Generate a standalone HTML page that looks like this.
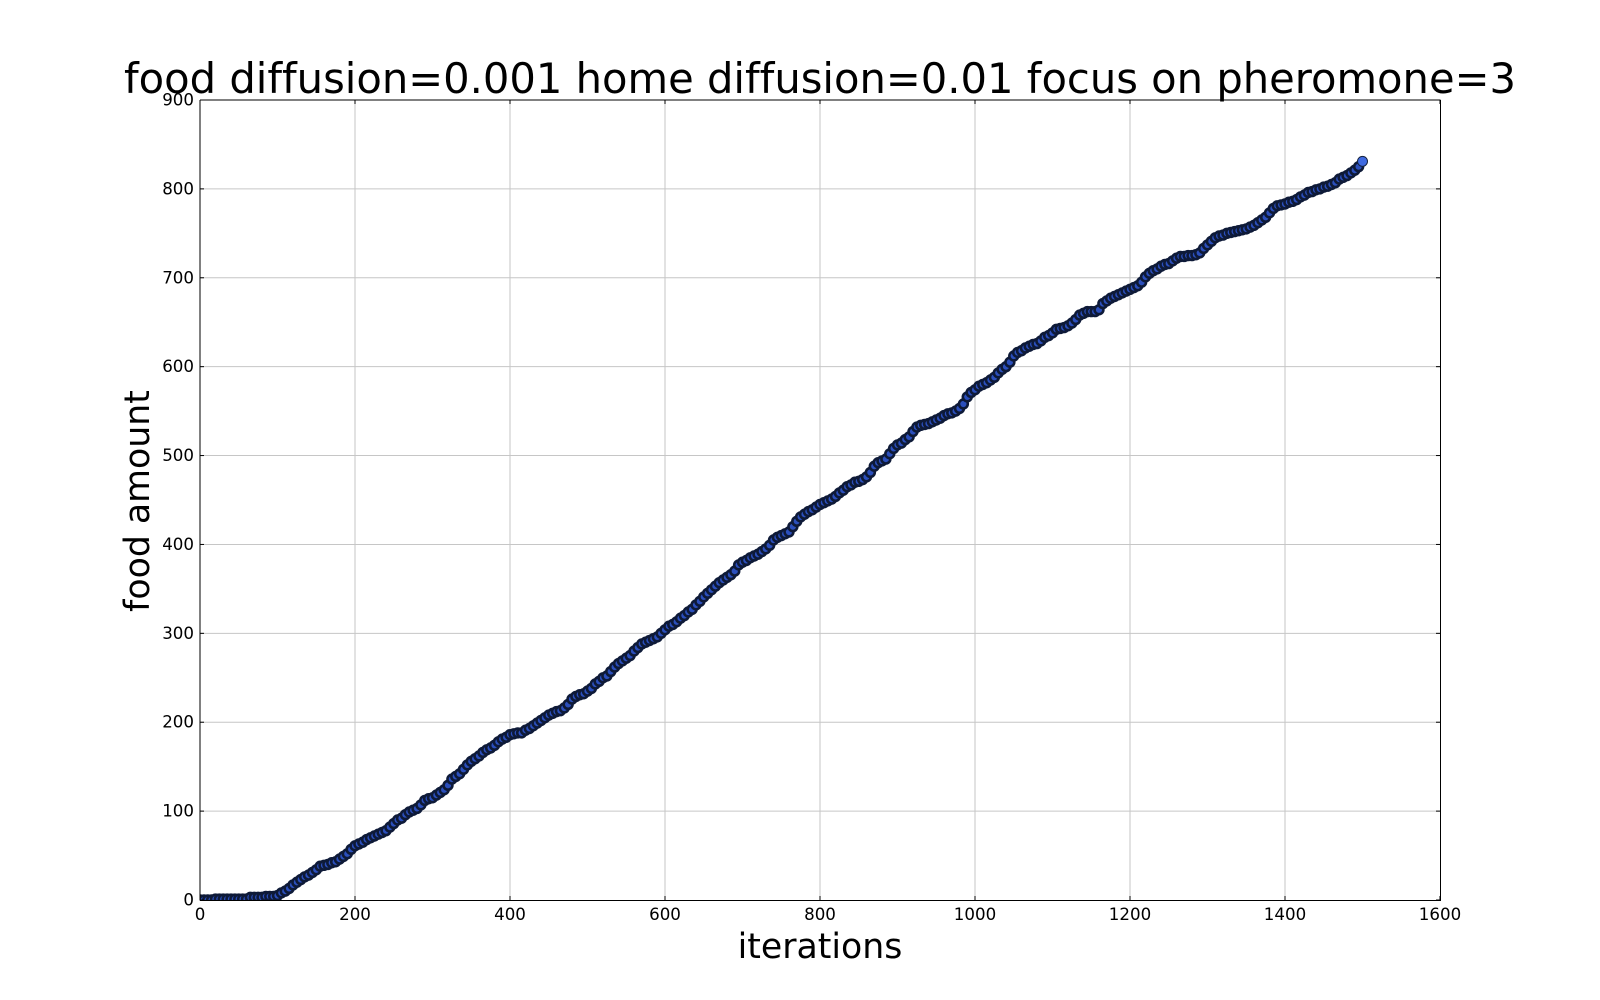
<!DOCTYPE html>
<html lang="en">
<head>
<meta charset="utf-8">
<title>food diffusion chart</title>
<style>
html,body{margin:0;padding:0;background:#fff;}
svg{display:block;font-family:"DejaVu Sans","Liberation Sans",sans-serif;font-variant-ligatures:none;}
</style>
</head>
<body>
<svg id="chart" width="1600" height="1000" viewBox="0 0 1600 1000" xmlns="http://www.w3.org/2000/svg">
  <defs>
    <clipPath id="plot-clip"><rect x="200" y="100" width="1240" height="800"/></clipPath>
  </defs>
  <rect x="0" y="0" width="1600" height="1000" fill="#fff"/>
  <g id="grid"></g>
  <g id="marks" clip-path="url(#plot-clip)"></g>
  <g id="ticks"></g>
  <g id="frame">
    <line x1="200" y1="100" x2="1440.5" y2="100" stroke="#000" stroke-width="1"/>
    <line x1="200" y1="100" x2="200" y2="900.5" stroke="#000" stroke-width="1"/>
    <line x1="1440.5" y1="100" x2="1440.5" y2="901" stroke="#000" stroke-width="1"/>
    <line x1="200" y1="900.5" x2="1441" y2="900.5" stroke="#000" stroke-width="1"/>
  </g>
  <g id="labels"></g>
  <text x="820" y="93" text-anchor="middle" font-size="41.67" fill="#000">food diffusion=0.001 home diffusion=0.01 focus on pheromone=3</text>
  <text x="820" y="958" text-anchor="middle" font-size="34.72" fill="#000">iterations</text>
  <text transform="translate(149 501) rotate(-90)" text-anchor="middle" font-size="34.72" fill="#000">food amount</text>
</svg>
<script>
const xTickValues = [0,200,400,600,800,1000,1200,1400,1600];
const yTickValues = [0,100,200,300,400,500,600,700,800,900];
const sampleStep = 5;
const foodAmount = [
0,0,0,0,1,1,1,1,1,1,1,1,1,3,3,3,3,4,4,4,
5,8,10,13,17,20,23,26,28,31,34,38,39,40,42,43,46,49,52,57,
61,63,65,68,70,72,74,76,78,82,86,90,92,96,99,101,103,107,112,114,
115,118,121,124,129,136,139,142,147,152,156,159,162,166,169,171,174,178,181,183,
186,187,188,188,191,193,196,199,202,205,208,210,212,213,216,220,226,229,231,232,
235,238,243,246,250,252,257,262,266,269,272,275,280,284,288,290,292,294,296,300,
304,308,310,313,317,320,324,327,332,336,341,345,349,353,357,360,363,366,370,377,
380,382,385,387,389,392,395,399,405,408,410,412,414,420,426,431,434,437,439,442,
445,447,449,451,454,458,461,465,467,470,471,473,476,481,488,492,494,496,502,508,
512,514,518,521,527,532,534,535,536,538,540,542,545,547,548,550,553,558,566,571,
574,578,580,582,585,588,593,597,600,605,612,616,618,621,623,625,626,629,633,635,
638,642,643,644,646,649,653,658,660,662,662,662,664,671,674,677,679,681,683,685,
687,689,691,695,701,705,708,710,713,715,716,719,722,724,724,725,725,726,728,733,
737,741,745,747,748,750,751,752,753,754,755,757,759,762,765,768,773,778,781,782,
783,785,786,788,791,793,796,797,799,800,802,803,805,807,811,813,815,818,821,825,
831
];

const NS = 'http://www.w3.org/2000/svg';
const plotLeft = 200, plotRight = 1440, plotTop = 100, plotBottom = 900;
const xMax = xTickValues[xTickValues.length - 1];
const yMax = yTickValues[yTickValues.length - 1];
function xScale(v) { return plotLeft + v / xMax * (plotRight - plotLeft); }
function yScale(v) { return plotBottom - v / yMax * (plotBottom - plotTop); }
function make(tag, attrs) {
  const el = document.createElementNS(NS, tag);
  for (const k in attrs) el.setAttribute(k, attrs[k]);
  return el;
}
const gridG = document.getElementById('grid');
const ticksG = document.getElementById('ticks');
const labelsG = document.getElementById('labels');
const marksG = document.getElementById('marks');

xTickValues.forEach(function (v) {
  const x = xScale(v);
  if (v !== 0 && v !== xMax) {
    const g = make('line', {x1: x, y1: plotTop, x2: x, y2: plotBottom, stroke: '#c6c6c6', 'stroke-width': 1});
    
    
    gridG.appendChild(g);
  }
  const t1 = make('line', {x1: x, y1: plotBottom, x2: x, y2: plotBottom - 4, stroke: '#000', 'stroke-width': 1});
  
  
  ticksG.appendChild(t1);
  const t2 = make('line', {x1: x, y1: plotTop, x2: x, y2: plotTop + 4, stroke: '#000', 'stroke-width': 1});
  
  
  ticksG.appendChild(t2);
  const l = make('text', {x: x, y: 920, 'text-anchor': 'middle', 'font-size': 16.67, fill: '#000'});
  
  
  l.textContent = String(v);
  labelsG.appendChild(l);
});

yTickValues.forEach(function (v) {
  const y = yScale(v);
  if (v !== 0 && v !== yMax) {
    const g = make('line', {x1: plotLeft, y1: y, x2: plotRight, y2: y, stroke: '#c6c6c6', 'stroke-width': 1});
    
    
    gridG.appendChild(g);
  }
  const t1 = make('line', {x1: plotLeft, y1: y, x2: plotLeft + 4, y2: y, stroke: '#000', 'stroke-width': 1});
  
  
  ticksG.appendChild(t1);
  const t2 = make('line', {x1: plotRight, y1: y, x2: plotRight - 4, y2: y, stroke: '#000', 'stroke-width': 1});
  
  
  ticksG.appendChild(t2);
  const l = make('text', {x: 194, y: y + 5.5, 'text-anchor': 'end', 'font-size': 16.67, fill: '#000'});
  
  
  l.textContent = String(v);
  labelsG.appendChild(l);
});

foodAmount.forEach(function (v, i) {
  const isLast = i === foodAmount.length - 1;
  const c = make('circle', {
    cx: xScale(i * sampleStep),
    cy: yScale(v),
    r: isLast ? 5 : 4.4,
    fill: isLast ? '#3f6ae0' : '#2b4fbc',
    stroke: isLast ? '#14223f' : '#0e1a38',
    'stroke-width': isLast ? 1 : 2.6
  });
  
  
  marksG.appendChild(c);
});
</script>
</body>
</html>
